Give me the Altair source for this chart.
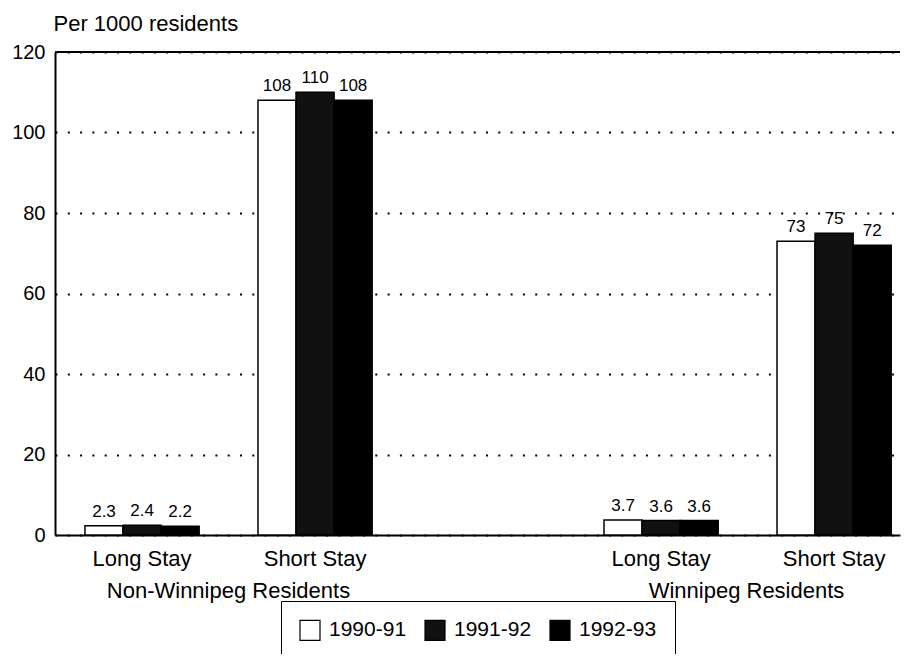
import altair as alt
import pandas as pd

# ---- data ----
groups = ["Non-Winnipeg Residents", "Winnipeg Residents"]
stays = ["Long Stay", "Short Stay"]
years = ["1990-91", "1991-92", "1992-93"]
nw_long = [2.3, 2.4, 2.2]
nw_short = [108, 110, 108]
w_long = [3.7, 3.6, 3.6]
w_short = [73, 75, 72]
y_ticks = [0, 20, 40, 60, 80, 100, 120]
y_top = [120]
y_title = "Per 1000 residents"
colors = ["#ffffff", "#111111", "#000000"]

FONT = "Liberation Sans"

# slot keys: group|stay, with an empty slot between the two groups
slots = [
    "Non-Winnipeg|" + stays[0],
    "Non-Winnipeg|" + stays[1],
    "gap|",
    "Winnipeg|" + stays[0],
    "Winnipeg|" + stays[1],
]
series = {slots[0]: nw_long, slots[1]: nw_short, slots[3]: w_long, slots[4]: w_short}
rows = []
for slot, vals in series.items():
    for yr, v in zip(years, vals):
        rows.append({"slot": slot, "year": yr, "value": v, "label": f"{v:g}"})
df = pd.DataFrame(rows)

x_enc = alt.X(
    "slot:N",
    scale=alt.Scale(domain=slots, paddingInner=0.34, paddingOuter=0.112, align=0.773),
    axis=alt.Axis(
        title=None,
        labelExpr="split(datum.value, '|')[1]",
        labelFontSize=22,
        labelPadding=30,
        labelBaseline="alphabetic",
        labelAngle=0,
        labelColor="black",
        labelLimit=0,
        ticks=False,
        tickSize=0,
        domainColor="black",
        domainWidth=2,
        grid=False,
    ),
)
xoff_enc = alt.XOffset("year:N", scale=alt.Scale(domain=years, paddingInner=0, paddingOuter=0))
y_enc = alt.Y(
    "value:Q",
    scale=alt.Scale(domain=[0, 120], nice=False),
    axis=alt.Axis(
        title=y_title,
        titleAngle=0,
        titleAlign="left",
        titleBaseline="alphabetic",
        titleX=-2,
        titleY=-22,
        titleFontSize=22,
        titleFontWeight="normal",
        titleColor="black",
        titleLimit=0,
        values=y_ticks,
        labelFontSize=20,
        labelPadding=10,
        labelColor="black",
        ticks=False,
        domainColor="black",
        domainWidth=2,
        grid=True,
        gridColor="black",
        gridDash=[2, 10.3],
        gridWidth=2,
        gridOpacity=1,
        zindex=0,
    ),
)

base = alt.Chart(df)

bars = base.mark_bar(stroke="black", strokeWidth=1.5).encode(
    x=x_enc,
    xOffset=xoff_enc,
    y=y_enc,
    color=alt.Color(
        "year:N",
        scale=alt.Scale(domain=years, range=colors),
        legend=alt.Legend(
            title=None,
            orient="none",
            legendX=226,
            legendY=549,
            direction="horizontal",
            symbolType="square",
            symbolSize=400,
            symbolStrokeColor="black",
            symbolStrokeWidth=1.2,
            symbolOpacity=1,
            labelFontSize=21,
            labelOffset=8,
            labelColor="black",
            labelLimit=0,
            columnPadding=15,
            padding=18,
            strokeColor="black",
            fillColor="white",
        ),
    ),
)

labels = base.mark_text(dy=-9, baseline="alphabetic", fontSize=17, color="black").encode(
    x=x_enc,
    xOffset=xoff_enc,
    y=alt.Y("value:Q"),
    text="label:N",
)

top_rule = alt.Chart(pd.DataFrame({"value": y_top})).mark_rule(color="black", strokeWidth=2).encode(
    y=alt.Y("value:Q")
)

inner = alt.layer(bars, labels, top_rule)

group_layer = alt.Chart(pd.DataFrame({"group": groups})).mark_point(opacity=0).encode(
    x=alt.X(
        "group:N",
        scale=alt.Scale(type="point", domain=groups, padding=0.3156, align=0.529),
        axis=alt.Axis(
            orient="bottom",
            title=None,
            domain=False,
            ticks=False,
            labelFontSize=22,
            labelPadding=62,
            labelBaseline="alphabetic",
            labelAngle=0,
            labelColor="black",
            labelLimit=0,
            grid=False,
        ),
    )
)

chart = (
    alt.layer(inner, group_layer)
    .resolve_scale(x="independent")
    .properties(
        width=845,
        height=483,
        autosize=alt.AutoSizeParams(type="none"),
        padding={"left": 47, "top": 44, "right": 2, "bottom": 119},
    )
    .configure(font=FONT, background="white")
    .configure_view(stroke=None)
)

chart.save("out.html", embed_options={"renderer": "svg", "actions": False})
